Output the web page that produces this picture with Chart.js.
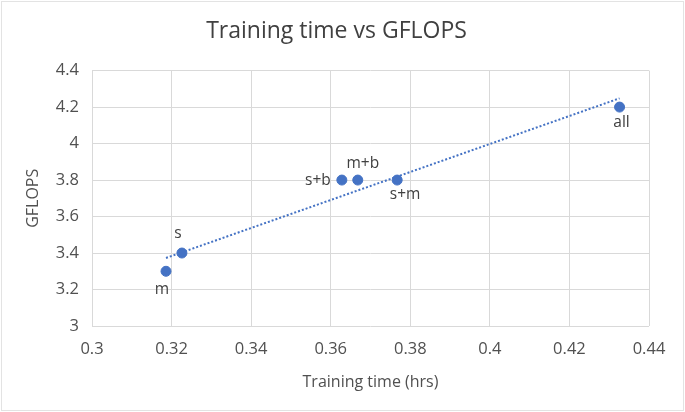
<!DOCTYPE html>
<html>
<head>
<meta charset="utf-8">
<script src="https://cdn.jsdelivr.net/npm/chart.js@4"></script>
<style>
  html, body { margin: 0; padding: 0; background: #fff; }
  #wrap { width: 685px; height: 412px; }
</style>
</head>
<body>
<div id="wrap"><canvas id="chart" width="685" height="412"></canvas></div>
<script>
// values
const pointLabels = ['m', 's', 's+b', 'm+b', 's+m', 'all'];
const trainingTime = [0.3186, 0.3226, 0.3628, 0.3668, 0.3767, 0.4326];
const gflops = [3.3, 3.4, 3.8, 3.8, 3.8, 4.2];
const trendTime = [0.3186, 0.4326];
const trendGflops = [3.373, 4.248];
const xTicks = [0.3, 0.32, 0.34, 0.36, 0.38, 0.4, 0.42, 0.44];
const yTicks = [3, 3.2, 3.4, 3.6, 3.8, 4, 4.2, 4.4];

const FONT = "'Open Sans', 'Liberation Sans', sans-serif";
const BLUE = '#4472C4';

// label placement next to each point: [dx, dy, align]
const labelPos = {
  'm': [-4, 18, 'center'],
  's': [-4, -19, 'center'],
  's+b': [-11, 1, 'right'],
  'm+b': [5, -16, 'center'],
  's+m': [8, 15, 'center'],
  'all': [2, 15, 'center']
};

const pointLabelPlugin = {
  id: 'pointLabelPlugin',
  afterDatasetsDraw(chart) {
    const ctx = chart.ctx;
    const meta = chart.getDatasetMeta(1);
    ctx.save();
    ctx.font = "15.5px " + FONT;
    ctx.fillStyle = '#404040';
    ctx.textBaseline = 'middle';
    meta.data.forEach((pt, i) => {
      const name = pointLabels[i];
      const p = labelPos[name];
      ctx.textAlign = p[2];
      ctx.fillText(name, pt.x + p[0], pt.y + p[1]);
    });
    ctx.restore();
  }
};

const borderPlugin = {
  id: 'borderPlugin',
  afterDraw(chart) {
    const ctx = chart.ctx;
    ctx.save();
    ctx.strokeStyle = '#e3e3e3';
    ctx.lineWidth = 1;
    ctx.strokeRect(1.5, 1.5, chart.width - 3, chart.height - 3);
    ctx.restore();
  }
};

new Chart(document.getElementById('chart'), {
  type: 'scatter',
  data: {
    datasets: [{
      label: 'Linear trend',
      type: 'line',
      data: trendTime.map((x, i) => ({ x: x, y: trendGflops[i] })),
      borderColor: BLUE,
      borderWidth: 2,
      borderDash: [2, 2],
      pointRadius: 0,
      fill: false,
      order: 2
    }, {
      label: 'GFLOPS',
      data: trainingTime.map((x, i) => ({ x: x, y: gflops[i] })),
      backgroundColor: BLUE,
      borderColor: BLUE,
      pointRadius: 5,
      order: 1
    }]
  },
  options: {
    responsive: false,
    animation: false,
    layout: { padding: { top: 0, right: 36, bottom: 20, left: 24 } },
    plugins: {
      legend: { display: false },
      tooltip: { enabled: false },
      title: {
        display: true,
        text: 'Training time vs GFLOPS',
        color: '#404040',
        font: { family: FONT, size: 23, weight: 'normal' },
        padding: { top: 18, bottom: 25 }
      }
    },
    scales: {
      x: {
        type: 'linear',
        min: 0.3,
        max: 0.44,
        afterBuildTicks(axis) { axis.ticks = xTicks.map(v => ({ value: v })); },
        afterFit(axis) { axis.height = 66; },
        grid: { color: '#d9d9d9', drawTicks: false },
        border: { display: false },
        ticks: {
          color: '#505050',
          padding: 13,
          maxRotation: 0,
          font: { family: FONT, size: 16.5 },
          callback: v => String(v)
        },
        title: {
          display: true,
          text: 'Training time (hrs)',
          color: '#505050',
          font: { family: FONT, size: 16 },
          padding: { top: 6, bottom: 0 }
        }
      },
      y: {
        type: 'linear',
        min: 3,
        max: 4.4,
        afterBuildTicks(axis) { axis.ticks = yTicks.map(v => ({ value: v })); },
        afterFit(axis) { axis.width = 68; },
        grid: { color: '#d9d9d9', drawTicks: false },
        border: { display: false },
        ticks: {
          color: '#505050',
          padding: 13,
          font: { family: FONT, size: 16.5 },
          callback: v => String(v)
        },
        title: {
          display: true,
          text: 'GFLOPS',
          color: '#505050',
          font: { family: FONT, size: 16 },
          padding: { top: 0, bottom: 0 }
        }
      }
    }
  },
  plugins: [pointLabelPlugin, borderPlugin]
});
</script>
</body>
</html>
